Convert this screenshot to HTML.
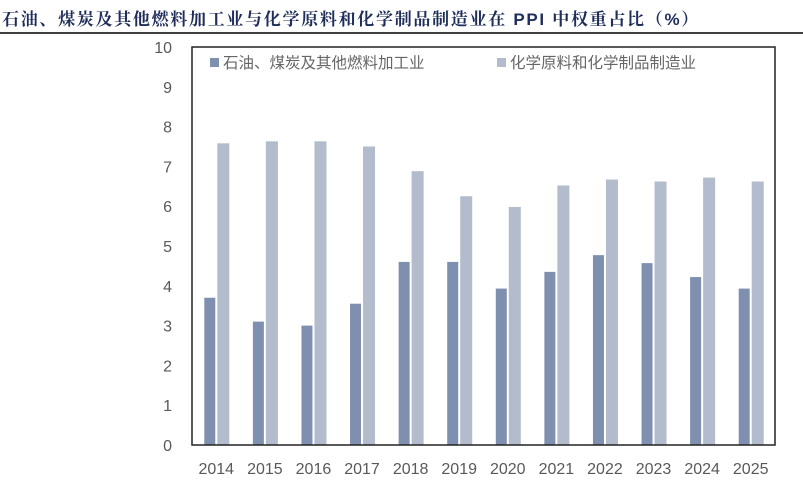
<!DOCTYPE html>
<html><head><meta charset="utf-8"><style>
body{margin:0;background:#fff;width:803px;height:485px;overflow:hidden;font-family:"Liberation Sans","Noto Sans CJK SC",sans-serif}
</style></head><body>
<svg width="803" height="485">
<text x="2" y="25" font-size="17" font-weight="bold" letter-spacing="1.7" fill="#1f2d5a" font-family="'Liberation Sans','Noto Serif CJK SC',serif">石油、煤炭及其他燃料加工业与化学原料和化学制品制造业在 PPI 中权重占比（%）</text>
<line x1="0" y1="33" x2="803" y2="33" stroke="#000" stroke-width="1.5"/>
<g id="bars"></g>
<g id="yticks"></g>
<g id="xticks"></g>
<rect x="192" y="47" width="583" height="398" fill="none" stroke="#222" stroke-width="1.5"/>
<g>
<rect x="210" y="58" width="9" height="9" fill="#7f8faf"/>
<text x="223" y="68" font-size="15.5" fill="#666">石油、煤炭及其他燃料加工业</text>
<rect x="497" y="58" width="9" height="9" fill="#b2bccd"/>
<text x="510" y="68" font-size="15.5" fill="#666">化学原料和化学制品制造业</text>
</g>
</svg>
<script>
const categories=["2014","2015","2016","2017","2018","2019","2020","2021","2022","2023","2024","2025"];
const petroleum=[3.7,3.1,3.0,3.55,4.6,4.6,3.93,4.35,4.77,4.57,4.22,3.93];
const chemical=[7.58,7.63,7.63,7.5,6.88,6.25,5.98,6.52,6.67,6.62,6.72,6.62];
const yTicks=[0,1,2,3,4,5,6,7,8,9,10];
const NS="http://www.w3.org/2000/svg";
const x0=192,w=583,y0=445,h=398,yMax=10;
const step=w/categories.length;
const xC=i=>x0+step*(i+0.5);
const yS=v=>y0-v/yMax*h;
function mk(t,a,p){const e=document.createElementNS(NS,t);for(const k in a)e.setAttribute(k,a[k]);document.getElementById(p).appendChild(e);return e;}
categories.forEach((c,i)=>{
 let b=mk("rect",{x:xC(i)-12,y:yS(petroleum[i]),width:11,height:y0-yS(petroleum[i]),fill:"#7f8faf"},"bars");
 
 
 let b2=mk("rect",{x:xC(i)+1,y:yS(chemical[i]),width:12,height:y0-yS(chemical[i]),fill:"#b2bccd"},"bars");
 
 
 let t=mk("text",{x:xC(i),y:474,"font-size":16,fill:"#595959","text-anchor":"middle"},"xticks");
 t.textContent=c;
 
 
});
yTicks.forEach(v=>{
 let t=mk("text",{x:172,y:yS(v)+6,"font-size":16,fill:"#595959","text-anchor":"end"},"yticks");
 t.textContent=v;
 
 
});
</script>
</body></html>
